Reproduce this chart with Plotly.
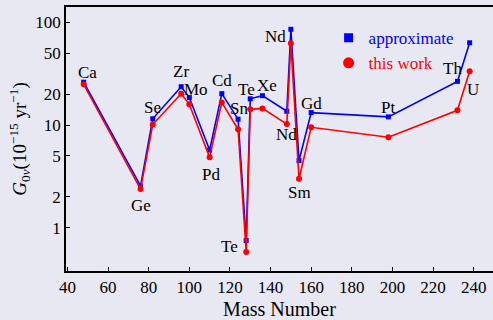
import math
import plotly.graph_objects as go

# Mass numbers of the double-beta emitters and their element symbols
mass_number = [48, 76, 82, 96, 100, 110, 116, 124, 128, 130, 136, 148, 150, 154, 160, 198, 232, 238]
element = ["Ca", "Ge", "Se", "Zr", "Mo", "Pd", "Cd", "Sn", "Te", "Te", "Xe", "Nd", "Nd", "Sm", "Gd", "Pt", "Th", "U"]

# Phase-space factors G_0v in units of 1e-15 / yr
g_approx = [26.1, 2.55, 11.5, 23.6, 18.5, 5.7, 20.2, 11.4, 0.75, 18.0, 19.3, 13.6, 85.5, 4.5, 13.2, 12.0, 26.6, 63.2]
g_this = [24.9, 2.38, 10.1, 20.2, 15.9, 4.84, 16.6, 9.08, 0.58, 14.2, 14.5, 10.2, 62.5, 3.0, 9.5, 7.6, 13.9, 33.3]

x_ticks = [40, 60, 80, 100, 120, 140, 160, 180, 200, 220, 240]
y_ticks = [1, 2, 5, 10, 20, 50, 100]

# label placement: which series the label hangs off, and pixel offset (dx, dy)
label_ref = ["a", "t", "a", "a", "a", "t", "a", "a", "t", "a", "a", "t", "a", "t", "a", "a", "a", "t"]
label_dx = [4, 0, 0, 0, 7, 1, 0, 1, -17, -4, 5, 0, -15, 0, 0, 0, -5, 3]
label_dy = [10, -16, 11, 15, 8, -17, 13, 11, 6, 9, 10, -10, -7, -14, 9, 9, 13, -18]

BG = "#e8e8f3"
FONT = "Liberation Serif, Times New Roman, serif"
BLUE = "#0000ff"
RED = "#ff0000"

fig = go.Figure()
fig.add_trace(go.Scatter(
    x=mass_number, y=g_approx, mode="lines+markers",
    line=dict(color=BLUE, width=1.6),
    marker=dict(symbol="square", size=5, color=BLUE),
    showlegend=False,
))
fig.add_trace(go.Scatter(
    x=mass_number, y=g_this, mode="lines+markers",
    line=dict(color=RED, width=1.6),
    marker=dict(symbol="circle", size=6, color=RED),
    showlegend=False,
))
# legend entries: marker only
fig.add_trace(go.Scatter(
    x=[None], y=[None], mode="markers",
    marker=dict(symbol="square", size=9, color=BLUE),
    name="<span style='color:#0000ff'>approximate</span>",
))
fig.add_trace(go.Scatter(
    x=[None], y=[None], mode="markers",
    marker=dict(symbol="circle", size=11, color=RED),
    name="<span style='color:#ff0000'>this work</span>",
))

annotations = []
for i, name in enumerate(element):
    yv = g_approx[i] if label_ref[i] == "a" else g_this[i]
    annotations.append(dict(
        x=mass_number[i], y=math.log10(yv), xref="x", yref="y",
        text=name, showarrow=False, xanchor="center", yanchor="middle",
        xshift=label_dx[i], yshift=label_dy[i],
        font=dict(family=FONT, size=17, color="black"),
    ))

fig.update_layout(
    width=493, height=320,
    margin=dict(l=66, r=0, t=7, b=49),
    paper_bgcolor=BG, plot_bgcolor=BG,
    font=dict(family=FONT, size=16, color="black"),
    annotations=annotations,
    legend=dict(
        x=0.615, y=0.95, xanchor="left", yanchor="top",
        bgcolor="rgba(0,0,0,0)", font=dict(family=FONT, size=17),
        itemwidth=30, tracegroupgap=0,
    ),
    xaxis=dict(
        range=[39.3, 249.5], tickvals=x_ticks, ticks="inside", ticklen=4,
        tickwidth=1.2, tickcolor="black",
        showline=True, linecolor="black", linewidth=1.6, mirror=True,
        showgrid=False, zeroline=False,
        tickfont=dict(family=FONT, size=17),
        title=dict(text="Mass Number", font=dict(family=FONT, size=20), standoff=9),
    ),
    yaxis=dict(
        type="log", range=[-0.4216, 2.149], tickvals=y_ticks,
        ticktext=[str(v) for v in y_ticks],
        ticks="inside", ticklen=4, tickwidth=1.2, tickcolor="black",
        showline=True, linecolor="black", linewidth=1.6,
        showgrid=False, zeroline=False,
        tickfont=dict(family=FONT, size=17),
        title=dict(
            text="<i>G</i><sub>0<i>ν</i></sub>(10<sup>−15</sup> yr<sup>−1</sup>)",
            font=dict(family=FONT, size=19), standoff=4,
        ),
    ),
)

fig.write_html("out.html")
